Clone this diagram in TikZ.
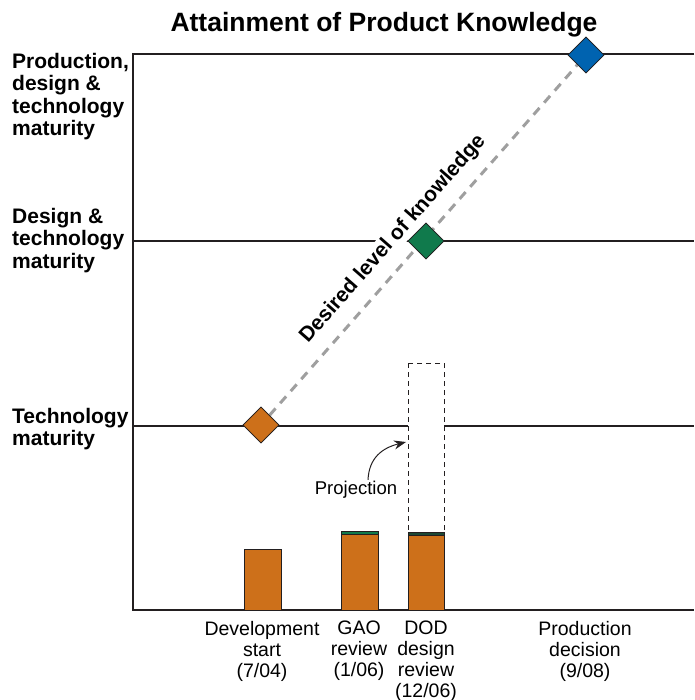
\documentclass[tikz,border=0pt]{standalone}
\usepackage{fontspec}
\setmainfont{Liberation Sans}
\usepackage{tikz}
\usepackage{xcolor}
\usetikzlibrary{shapes.geometric, arrows.meta}
\definecolor{barorange}{RGB}{205,112,26}
\definecolor{lvlgreen}{RGB}{16,122,76}
\definecolor{darkgreen}{RGB}{28,72,52}
\definecolor{lvlblue}{RGB}{0,99,176}
\definecolor{ink}{RGB}{35,31,32}
\tikzstyle{level} = [ink, line width=2pt]
\tikzstyle{marker} = [diamond, draw=ink, line width=0.8pt, minimum width=36pt, minimum height=36pt, inner sep=0pt]
\tikzstyle{bar} = [draw=ink, line width=1pt, fill=barorange]
\tikzstyle{lbl} = [anchor=north west, inner sep=0pt, align=left, font=\fontsize{21}{22.5}\selectfont\bfseries]
\tikzstyle{event} = [anchor=north, inner sep=0pt, align=center, font=\fontsize{19.5}{21}\selectfont]
\tikzstyle{desired} = [gray!75, line width=3pt, dash pattern=on 9pt off 7pt]

\begin{document}
\begin{tikzpicture}[x=1pt, y=-1pt]
    \useasboundingbox (0,0) rectangle (694,700);

    \node (title) at (384,32) [anchor=base, inner sep=0pt, font=\fontsize{26.5}{30}\selectfont\bfseries] {Attainment of Product Knowledge};

    % axes and knowledge levels
    \draw[level] (694,54) -- (133,54) -- (133,610) -- (694,610);
    \draw[level] (133,241) -- (694,241);
    \draw[level] (133,426) -- (694,426);

    \node[lbl] (prodlvl) at (12,53) {Production,\\design \&\\technology\\maturity};
    \node[lbl] (desiglvl) at (12,208) {Design \&\\technology\\maturity};
    \node[lbl] (techlvl) at (12,408) {Technology\\maturity};

    % projection box and bars
    \draw[ink, line width=1pt, dash pattern=on 5pt off 4pt, fill=white] (408,363) rectangle (444,532);
    \draw[bar] (244,549) rectangle (281,610);
    \draw[bar] (341,534) rectangle (378,610);
    \draw[draw=ink, line width=0.8pt, fill=lvlgreen] (341,531) rectangle (378,534);
    \draw[bar] (408,535) rectangle (444,610);
    \draw[draw=ink, line width=0.8pt, fill=darkgreen] (408,532) rectangle (444,535);

    \node (proj) at (356,490) [font=\fontsize{18.5}{20}\selectfont] {Projection};
    \coordinate (projtip) at (406,442);
    \draw[ink, line width=1pt, -{Stealth[length=12pt, width=9pt]}] ([xshift=12pt, yshift=-2pt]proj.north) .. controls (369,458) and (382,448) .. (projtip);

    % desired level of knowledge
    \node (knowl) at (393,239) [rotate=48.7, fill=white, inner sep=2pt, font=\fontsize{21}{24}\selectfont\bfseries] {Desired level of knowledge};
    \node[marker, fill=barorange] (devpt) at (261,425) {};
    \node[marker, fill=lvlgreen] (despt) at (426,241) {};
    \node[marker, fill=lvlblue] (prodpt) at (586,55) {};
    \draw[desired] (devpt) -- (prodpt);
    \node[marker, fill=barorange] at (devpt) {};
    \node[marker, fill=lvlgreen] at (despt) {};
    \node[marker, fill=lvlblue] at (prodpt) {};

    % milestones
    \node[event] (devstart) at (262,621) {Development\\start\\(7/04)};
    \node[event] (gaorev) at (359,621) {GAO\\review\\(1/06)};
    \node[event] (dodrev) at (426,621) {DOD\\design\\review\\(12/06)};
    \node[event] (proddec) at (585,621) {Production\\decision\\(9/08)};
\end{tikzpicture}
\end{document}
